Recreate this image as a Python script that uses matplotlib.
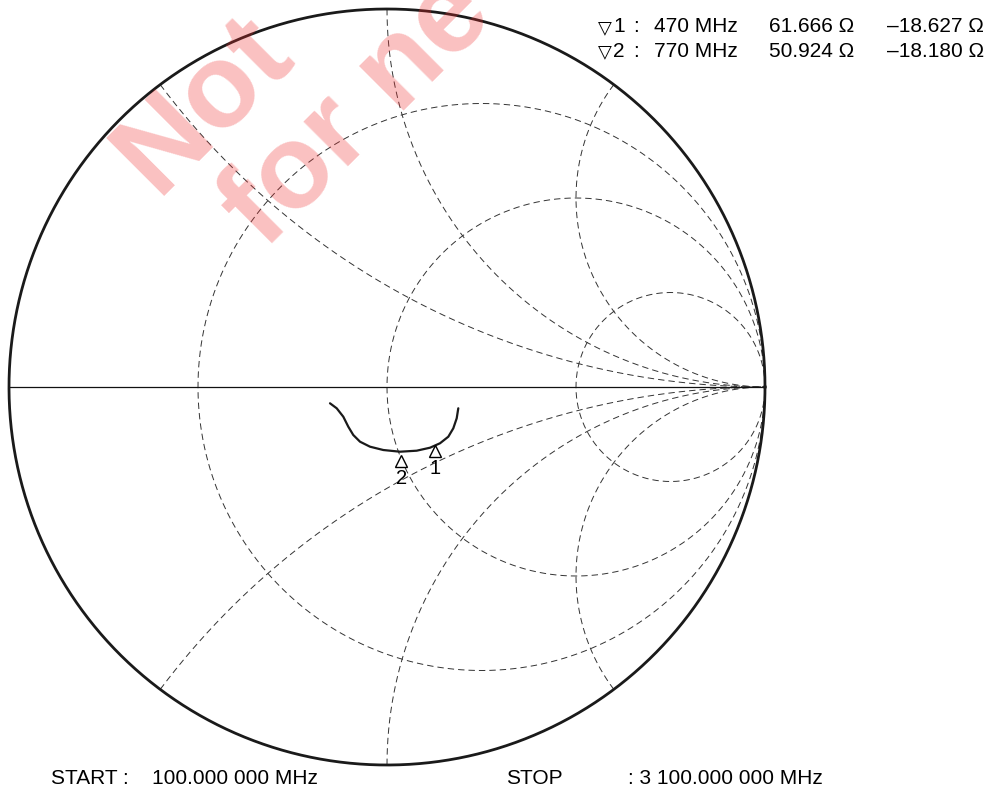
import numpy as np
import matplotlib
matplotlib.use("Agg")
import matplotlib.pyplot as plt
from matplotlib.transforms import offset_copy

plt.rcParams['lines.scale_dashes'] = False

# ---------------- data ----------------
# Smith chart grid values (normalised)
resistance_circles = [1/3, 1.0, 3.0]
reactance_arcs = [0.5, 1.0, 2.0]
z0 = 50.0

trace_re = [-0.1508, -0.1331, -0.1156, -0.1024, -0.0892, -0.0714, -0.0450, -0.0098,
            0.0344, 0.0786, 0.1138, 0.1402, 0.1622, 0.1754, 0.1844, 0.1886]
trace_im = [-0.0431, -0.0563, -0.0786, -0.1050, -0.1270, -0.1447, -0.1579, -0.1667,
            -0.1712, -0.1685, -0.1606, -0.1489, -0.1315, -0.1093, -0.0828, -0.0563]

# markers
marker_ids = ["1", "2"]
marker_freq = ["470 MHz", "770 MHz"]
marker_R = [61.666, 50.924]
marker_X = [-18.627, -18.180]

start_label = "100.000 000 MHz"
stop_label = "3 100.000 000 MHz"

# ---------------- figure ----------------
W, H = 995, 790
CX, CY, RPX = 387.0, 387.0, 378.0
fig = plt.figure(figsize=(W / 100, H / 100), dpi=100)
ax = fig.add_axes([0, 0, 1, 1])
ax.set_xlim(-CX / RPX, (W - CX) / RPX)
ax.set_ylim(-(H - CY) / RPX, CY / RPX)
ax.axis('off')

def fx(x):
    return x / W

def fy(y):
    return 1 - y / H

grid_kw = dict(color='#333333', lw=0.7, dashes=(4.6, 2.9))

# resistance circles
t = np.linspace(0, 2 * np.pi, 720)
for r in resistance_circles:
    c = r / (1 + r)
    rad = 1 / (1 + r)
    ax.plot(c + rad * np.cos(t), rad * np.sin(t), **grid_kw)

# reactance arcs (inside the unit circle only)
for xv in reactance_arcs:
    px = (xv ** 2 - 1) / (xv ** 2 + 1)
    py = 2 * xv / (xv ** 2 + 1)
    a0 = np.arctan2(py - 1 / xv, px - 1) % (2 * np.pi)
    a = np.linspace(a0, 1.5 * np.pi, 400)
    xs = 1 + np.cos(a) / xv
    ys = 1 / xv + np.sin(a) / xv
    ax.plot(xs, ys, **grid_kw)
    ax.plot(xs, -ys, **grid_kw)

# horizontal axis
ax.plot([-1, 1], [0, 0], color='#111111', lw=0.9)

# outer circle
ax.plot(np.cos(t), np.sin(t), color='#1a1a1a', lw=2.0)

# trace
ax.plot(trace_re, trace_im, color='#1a1a1a', lw=1.6, solid_joinstyle='round',
        solid_capstyle='round', zorder=5)

# markers
tri_tr = offset_copy(ax.transData, fig=fig, x=-1, y=-9, units='dots')
lab_tr = offset_copy(ax.transData, fig=fig, x=-0.5, y=-26.5, units='dots')
for mid, R, X in zip(marker_ids, marker_R, marker_X):
    z = complex(R, X) / z0
    g = (z - 1) / (z + 1)
    ax.plot([g.real], [g.imag], marker='^', ms=8.5, mfc='white', mec='black',
            mew=1.0, transform=tri_tr, zorder=6)
    ax.text(g.real, g.imag, mid, transform=lab_tr, ha='center', va='center',
            fontsize=14.5, family=['Liberation Sans', 'DejaVu Sans'], zorder=6)

# marker table
fs = 15
fam = ['Liberation Sans', 'DejaVu Sans']
rows_y = [32.5, 57.0]
for i in range(2):
    yb = fy(rows_y[i])
    fig.text(fx(598), fy(rows_y[i] + 0.5), "\u25BD", fontsize=13, family=['DejaVu Sans'],
             va='baseline')
    fig.text(fx(613), yb, marker_ids[i], fontsize=fs, family=fam, va='baseline')
    fig.text(fx(633), yb, ":", fontsize=fs, family=fam, va='baseline')
    fig.text(fx(654), yb, marker_freq[i], fontsize=fs, family=fam, va='baseline')
    fig.text(fx(769), yb, f"{marker_R[i]:.3f} \u03A9", fontsize=fs, family=fam, va='baseline')
    fig.text(fx(887), yb, f"\u2013{abs(marker_X[i]):.3f} \u03A9", fontsize=fs, family=fam,
             va='baseline')

# start / stop
yb = fy(784)
fig.text(fx(51), yb, "START :", fontsize=fs, family=fam, va='baseline')
fig.text(fx(152), yb, start_label, fontsize=fs, family=fam, va='baseline')
fig.text(fx(506), yb, "STOP", fontsize=fs, family=fam, va='baseline')
fig.text(fx(628), yb, ": " + stop_label, fontsize=fs, family=fam, va='baseline')

# watermark (partly outside the picture, as in the reference)
wm_kw = dict(rotation=45, rotation_mode='anchor', ha='left', va='baseline',
             fontsize=85, fontweight='bold', color='#f03030', alpha=0.3,
             family=['Liberation Sans', 'DejaVu Sans'], zorder=20)
fig.text(fx(156), fy(196), "Not", **wm_kw)
fig.text(fx(264), fy(250), "for ne", **wm_kw)

fig.savefig("out.png", dpi=100)
